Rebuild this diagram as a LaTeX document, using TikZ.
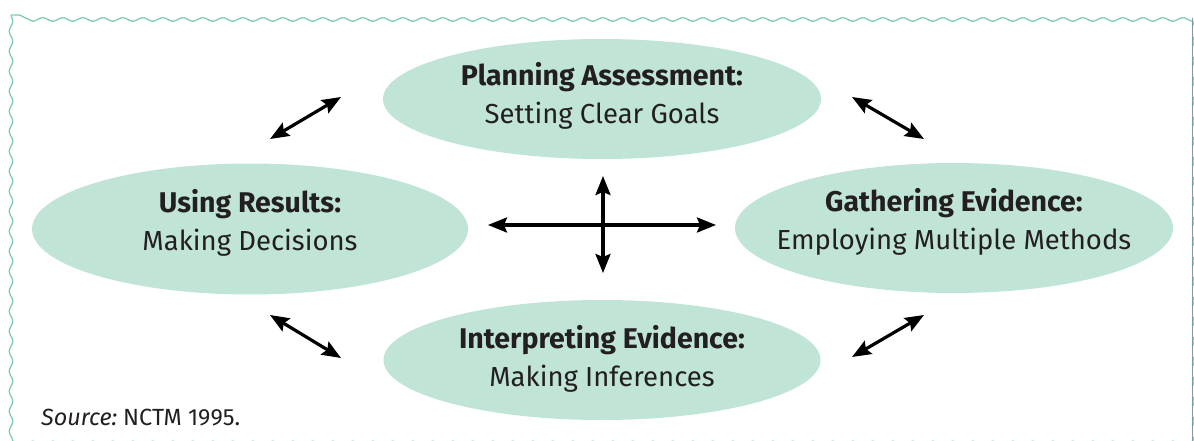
\documentclass[tikz,border=0pt]{standalone}
\usepackage{fontspec}
\setmainfont{Fira Sans}
\usetikzlibrary{arrows.meta,decorations.pathmorphing,shapes.geometric}
\definecolor{ellfill}{HTML}{C0E5D6}
\definecolor{wavy}{HTML}{7ECDB0}
\definecolor{txt}{HTML}{231F20}
\definecolor{edge}{HTML}{7C9BB0}
\newcommand{\hd}[1]{{\fontsize{28.5}{38}\selectfont\bfseries #1}}
\tikzset{
  stage/.style={ellipse, fill=ellfill, draw=none, inner sep=0pt},
  stagetext/.style={align=center, inner sep=0pt, text=txt, font=\fontsize{27.5}{38}\selectfont},
  dbl/.style={line width=3.2pt, {Stealth[length=19pt,width=15pt,inset=3pt]}-{Stealth[length=19pt,width=15pt,inset=3pt]}},
  frame/.style={draw=wavy, line width=1.3pt, decorate,
    decoration={snake, segment length=20pt, amplitude=1.8pt}}
}
\begin{document}
\begin{tikzpicture}[x=1pt,y=-1pt]
\useasboundingbox (0,0) rectangle (1194,441);
\fill[white] (0,0) rectangle (1194,441);
% frame
\draw[frame] (11,15) rectangle (1190,436);
\draw[edge, line width=1.2pt] (1192.5,18) -- (1192.5,441);
% stages
\node[stage, minimum width=438pt, minimum height=120pt] (plan) at (602,99) {};
\node[stagetext] (plant) at ([yshift=3pt]plan.center) {\hd{Planning Assessment:}\\Setting Clear Goals};
\node[stage, minimum width=436pt, minimum height=131pt] (use) at (250,229) {};
\node[stagetext] (uset) at ([yshift=6pt]use.center) {\hd{Using Results:}\\Making Decisions};
\node[stage, minimum width=438pt, minimum height=130pt] (gather) at (954,228) {};
\node[stagetext] (gathert) at ([yshift=6pt]gather.center) {\hd{Gathering Evidence:}\\Employing Multiple Methods};
\node[stage, minimum width=437pt, minimum height=120pt] (interp) at (602,360) {};
\node[stagetext] (interpt) at ([yshift=1pt]interp.center) {\hd{Interpreting Evidence:}\\Making Inferences};
% arrow end points
\coordinate (tl1) at (270,139); \coordinate (tl2) at (341,97);
\coordinate (tr1) at (852,97);  \coordinate (tr2) at (924,139);
\coordinate (bl1) at (270,315); \coordinate (bl2) at (341,358);
\coordinate (br1) at (852,357); \coordinate (br2) at (924,315);
\coordinate (hl) at (488,225);  \coordinate (hr) at (716,225);
\coordinate (vt) at (603,176);  \coordinate (vb) at (603,273);
\draw[dbl] (tl1) -- (tl2);
\draw[dbl] (tr1) -- (tr2);
\draw[dbl] (bl1) -- (bl2);
\draw[dbl] (br1) -- (br2);
\draw[dbl] (hl) -- (hr);
\draw[dbl] (vt) -- (vb);
% source
\node[anchor=base west, text=txt, font=\fontsize{23.4}{26}\selectfont, inner sep=0pt] (src) at (41,425)
  {\textit{Source:}\kern-0.1em{} NCTM 1995.};
\end{tikzpicture}
\end{document}
